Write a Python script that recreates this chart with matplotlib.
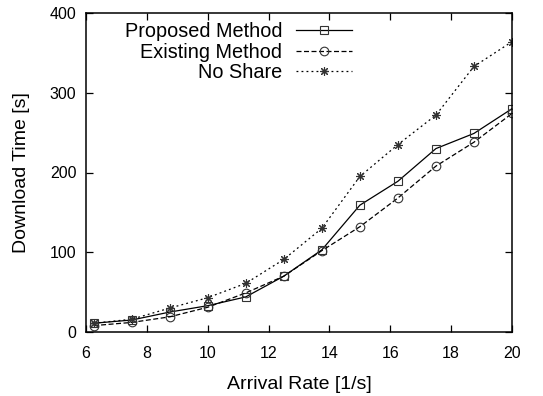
import matplotlib
matplotlib.use("Agg")
import matplotlib.pyplot as plt

plt.rcParams["font.family"] = ["Liberation Sans", "DejaVu Sans"]

# arrival rate [1/s]
arrival = [6.25, 7.5, 8.75, 10, 11.25, 12.5, 13.75, 15, 16.25, 17.5, 18.75, 20]

# download time [s]
proposed = [11, 15, 25, 33, 44, 70, 103, 159, 189, 230, 249, 280]
existing = [8, 12, 19, 31, 49, 70, 102, 132, 168, 208, 238, 274]
no_share = [11, 16, 30, 43, 61, 91, 130, 195, 235, 272, 333, 364]

fig = plt.figure(figsize=(5.43, 3.96), dpi=100)
ax = fig.add_axes([86 / 543, 64 / 396, 426 / 543, 319 / 396])

mk = dict(markersize=6.2, markerfacecolor="none", markeredgecolor="#333333",
          markeredgewidth=0.8, color="black", linewidth=0.9)
ax.plot(arrival, proposed, linestyle="-", marker="s", label="Proposed Method", **mk)
ax.plot(arrival, existing, linestyle=(0, (4, 2)), marker="o", label="Existing Method", **mk)
ax.plot(arrival, no_share, linestyle=(0, (1.5, 2.5)), marker=(8, 2, 0),
        label="No Share", **mk)

ax.set_xlim(6, 20)
ax.set_ylim(0, 400)
ax.set_xticks(range(6, 21, 2))
ax.set_yticks(range(0, 401, 100))
ax.tick_params(direction="in", top=True, right=True, length=5, width=0.9,
               labelsize=11.5)
ax.tick_params(axis="x", pad=10)
ax.tick_params(axis="y", pad=7)
for s in ax.spines.values():
    s.set_linewidth(1.1)

ax.set_xlabel("Arrival Rate [1/s]", fontsize=14, labelpad=11)
ax.set_ylabel("Download Time [s]", fontsize=14, labelpad=14)

ax.legend(loc="upper right", bbox_to_anchor=(352 / 543, 1 - 22 / 396),
          bbox_transform=fig.transFigure, frameon=False, markerfirst=False,
          fontsize=14.3, handlelength=2.8, handletextpad=0.7, labelspacing=0.08,
          borderpad=0, borderaxespad=0)

fig.savefig("out.png", dpi=100)
